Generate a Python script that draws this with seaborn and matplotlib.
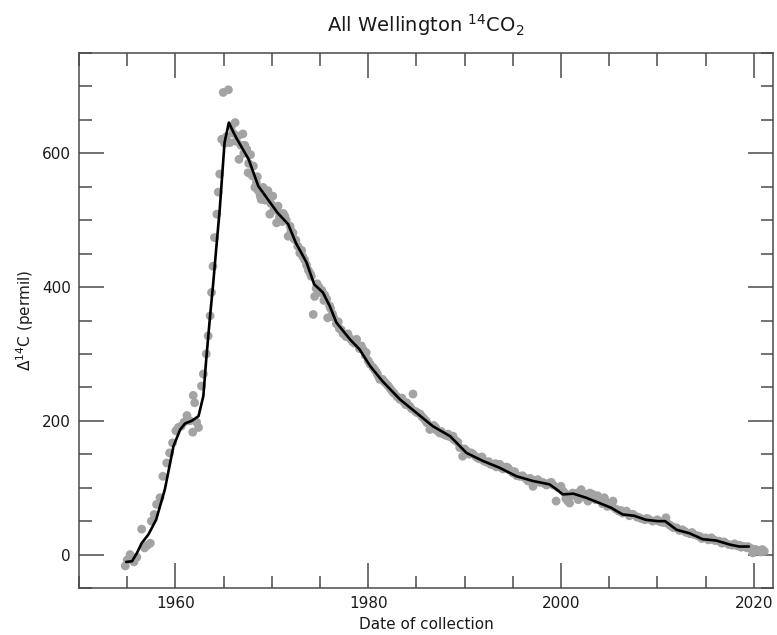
import matplotlib
matplotlib.use("Agg")
import matplotlib.pyplot as plt
import seaborn as sns
import pandas as pd
from matplotlib.ticker import MultipleLocator

# smoothed fit (black line)
fit_year = [1954.9, 1955.5, 1956.0, 1956.5, 1957.2, 1958.0, 1958.9, 1959.8, 1960.5, 1961.0,
            1961.7, 1962.4, 1962.9, 1963.2, 1963.6, 1963.9, 1964.3, 1964.6, 1965.1, 1965.55,
            1966.0, 1966.4, 1967.0, 1967.6, 1968.6, 1969.6, 1970.6, 1971.7, 1972.5, 1973.6,
            1974.4, 1975.3, 1976.0, 1976.7, 1978.1, 1979.1, 1980.2, 1981.5, 1983.3, 1985.0,
            1986.7, 1988.5, 1990.2, 1991.9, 1993.6, 1995.4, 1997.1, 1998.8, 1999.5, 2000.2,
            2001.3, 2002.6, 2004.0, 2005.2, 2006.4, 2007.6, 2008.8, 2010.0, 2010.8, 2012.0,
            2013.3, 2014.7, 2016.1, 2017.5, 2018.5, 2019.5]
fit_d14c = [-11, -10, 2, 17, 30, 52, 97, 162, 187, 196,
            200, 207, 237, 292, 357, 402, 468, 516, 616, 646,
            632, 621, 606, 591, 551, 531, 511, 494, 466, 437,
            404, 392, 372, 347, 322, 307, 282, 259, 232, 212,
            192, 177, 152, 140, 130, 117, 110, 105, 98, 90,
            91, 85, 77, 70, 60, 58, 52, 50, 50, 37,
            32, 23, 21, 15, 12, 12]

# measurements (grey points)
obs_year = [1954.8, 1955.0, 1955.3, 1955.7, 1956.0, 1956.5, 1956.8, 1957.1, 1957.4, 1957.5,
            1957.8, 1958.05, 1958.4, 1958.7, 1959.1, 1959.4, 1959.7, 1960.05, 1960.3, 1960.6,
            1960.9, 1961.2, 1961.5, 1961.8, 1961.85, 1962.0, 1962.2, 1962.4, 1962.7, 1962.9,
            1963.2, 1963.4, 1963.6, 1963.75, 1963.9, 1964.05, 1964.3, 1964.45, 1964.6, 1964.8,
            1964.96, 1965.1, 1965.3, 1965.5, 1965.65, 1965.8, 1966.0, 1966.2, 1966.5, 1966.6,
            1967.0, 1967.2, 1967.4, 1967.55, 1967.8, 1968.1, 1968.25, 1968.5, 1968.8, 1968.9,
            1969.1, 1969.4, 1969.6, 1969.8, 1970.1, 1970.3, 1970.5, 1970.65, 1970.9, 1971.1,
            1971.35, 1971.7, 1971.9, 1972.2, 1972.5, 1972.9, 1973.1, 1973.4, 1973.8, 1974.1,
            1974.3, 1974.45, 1974.7, 1974.9, 1975.2, 1975.5, 1975.7, 1975.8, 1976.1, 1976.4,
            1976.7, 1977.0, 1977.4, 1977.7, 1978.0, 1978.4, 1978.8, 1979.1, 1979.5, 1979.8,
            1980.2, 1980.5, 1980.9, 1981.2, 1981.5, 1981.9, 1982.3, 1982.7, 1983.0, 1983.3,
            1983.7, 1984.0, 1984.3, 1984.65, 1985.1, 1985.4, 1985.8, 1986.1, 1986.4, 1986.8,
            1987.1, 1987.4, 1987.8, 1988.1, 1988.5, 1988.8, 1989.1, 1989.5, 1989.8, 1990.2,
            1990.5, 1990.9, 1991.2, 1991.6, 1992.0, 1992.3, 1992.7, 1993.0, 1993.3, 1993.65,
            1994.0, 1994.3, 1994.7, 1995.0, 1995.4, 1995.7, 1996.1, 1996.4, 1996.8, 1997.1,
            1997.4, 1997.8, 1998.1, 1998.5, 1998.8, 1999.2, 1999.5, 1999.7, 2000.0, 2000.2,
            2000.5, 2000.9, 2001.2, 2001.5, 2001.8, 2002.1, 2002.4, 2002.8, 2003.0, 2003.3,
            2003.6, 2004.0, 2004.3, 2004.5, 2004.8, 2005.1, 2005.4, 2005.7, 2006.0, 2006.4,
            2006.8, 2007.1, 2007.5, 2007.9, 2008.3, 2008.7, 2009.1, 2009.5, 2009.9, 2010.3,
            2010.6, 2010.9, 2011.3, 2011.7, 2012.0, 2012.3, 2012.6, 2013.0, 2013.4, 2013.8,
            2014.2, 2014.6, 2015.0, 2015.3, 2015.6, 2016.0, 2016.4, 2016.7, 2017.0, 2017.4,
            2017.8, 2018.0, 2018.3, 2018.7, 2019.0, 2019.3, 2019.6, 2019.9, 2020.2, 2020.5,
            2020.9, 2021.1]
obs_d14c = [-17, -8, 0, -11, -4, 38, 10, 14, 17, 50,
            60, 75, 85, 117, 137, 152, 167, 185, 190, 192,
            198, 208, 200, 183, 238, 227, 198, 190, 252, 270,
            300, 327, 357, 392, 431, 474, 509, 542, 569, 621,
            691, 615, 625, 695, 616, 640, 630, 646, 626, 591,
            629, 612, 606, 571, 598, 581, 549, 565, 536, 531,
            549, 540, 544, 509, 536, 520, 496, 521, 510, 498,
            506, 476, 491, 481, 470, 451, 455, 441, 425, 416,
            359, 386, 405, 400, 395, 388, 382, 354, 368, 355,
            345, 338, 330, 326, 325, 318, 322, 308, 306, 302,
            285, 280, 272, 262, 262, 255, 248, 241, 236, 232,
            228, 227, 222, 240, 212, 210, 203, 197, 187, 193,
            186, 182, 180, 178, 176, 177, 170, 160, 147, 155,
            150, 150, 146, 143, 140, 138, 135, 134, 131, 135,
            128, 131, 126, 122, 118, 117, 116, 113, 114, 102,
            111, 108, 108, 104, 107, 104, 80, 100, 102, 95,
            84, 77, 92, 88, 82, 97, 86, 80, 92, 90,
            82, 84, 76, 85, 72, 74, 80, 68, 65, 62,
            65, 58, 60, 56, 54, 52, 53, 50, 51, 49,
            48, 55, 44, 40, 40, 36, 37, 33, 31, 30,
            28, 24, 25, 22, 25, 21, 20, 17, 18, 15,
            14, 16, 13, 11, 12, 10, 10, 2.5, 7.5, 6,
            7.5, 5]

# more measurements filling the dense band after the peak
extra_year = [1966.3, 1966.8, 1967.1, 1967.6, 1968.0, 1968.4, 1968.6, 1969.0, 1969.3, 1969.9,
              1970.2, 1970.8, 1971.2, 1971.5, 1972.0, 1972.3, 1972.7, 1973.2, 1973.6, 1974.0,
              1974.6, 1975.0, 1975.4, 1976.0, 1976.3, 1976.9, 1977.2, 1977.9, 1978.2, 1978.6,
              1979.3, 1979.7, 1980.0, 1980.7, 1981.0, 1981.7, 1982.1, 1982.5, 1983.5, 1983.9,
              1984.5, 1984.9, 1985.6, 1986.0, 1986.6, 1987.0, 1987.6, 1988.3, 1988.9, 1989.3,
              1990.0, 1990.7, 1991.4, 1991.8, 1992.5, 1993.2, 1993.8, 1994.5, 1995.2, 1996.0,
              1996.6, 1997.6, 1998.3, 1999.0, 2000.4, 2000.7, 2001.0, 2001.7, 2002.6, 2003.2,
              2003.8, 2004.6, 2005.3, 2006.2, 2007.3, 2008.0, 2008.9, 2010.0, 2011.0, 2011.5,
              2012.8, 2013.6, 2014.4, 2015.8, 2016.9, 2018.5, 2019.4, 2020.0, 2020.7]
extra_d14c = [618, 612, 600, 585, 566, 556, 544, 540, 530, 525,
              515, 505, 510, 500, 484, 472, 461, 446, 433, 420,
              398, 392, 380, 372, 360, 348, 336, 330, 322, 316,
              312, 298, 290, 276, 268, 258, 252, 244, 234, 224,
              218, 214, 206, 200, 190, 190, 184, 180, 172, 168,
              158, 152, 144, 146, 139, 136, 130, 130, 124, 118,
              110, 112, 106, 108, 92, 80, 88, 92, 90, 86,
              88, 80, 72, 66, 60, 56, 54, 52, 47, 42,
              35, 33, 27, 22, 19, 14, 12, 8, 4]

obs = pd.DataFrame({"year": obs_year + extra_year, "d14c": obs_d14c + extra_d14c})
fit = pd.DataFrame({"year": fit_year, "d14c": fit_d14c})

sns.set_style("ticks")
plt.rcParams["font.family"] = ["DejaVu Sans"]

fig = plt.figure(figsize=(7.77, 6.35), dpi=100)
ax = fig.add_axes([79 / 777, 47 / 635, 694 / 777, 535 / 635])

sns.scatterplot(data=obs, x="year", y="d14c", ax=ax, color="#a3a3a3",
                s=40, edgecolor="none", zorder=2)
sns.lineplot(data=fit, x="year", y="d14c", ax=ax, color="black",
             linewidth=1.9, estimator=None, sort=False, zorder=3)

ax.set_xlim(1950, 2022)
ax.set_ylim(-50, 750)
ax.xaxis.set_major_locator(MultipleLocator(20))
ax.xaxis.set_minor_locator(MultipleLocator(5))
ax.yaxis.set_major_locator(MultipleLocator(200))
ax.yaxis.set_minor_locator(MultipleLocator(50))

ax.tick_params(which="both", direction="in", top=True, right=True,
               color="#4a4a4a", width=1.1, labelsize=11, labelcolor="#1a1a1a")
ax.tick_params(which="major", length=18, pad=6)
ax.tick_params(which="minor", length=9)
for sp in ax.spines.values():
    sp.set_color("#4a4a4a")
    sp.set_linewidth(1.1)

ax.set_xlabel("Date of collection", fontsize=11, color="#1a1a1a")
ax.set_ylabel(r"$\mathregular{\Delta^{14}C}$ (permil)", fontsize=11, color="#1a1a1a")
ax.set_title(r"All Wellington $\mathregular{^{14}CO_2}$", fontsize=14, pad=15, color="#1a1a1a")

fig.savefig("out.png", dpi=100)
